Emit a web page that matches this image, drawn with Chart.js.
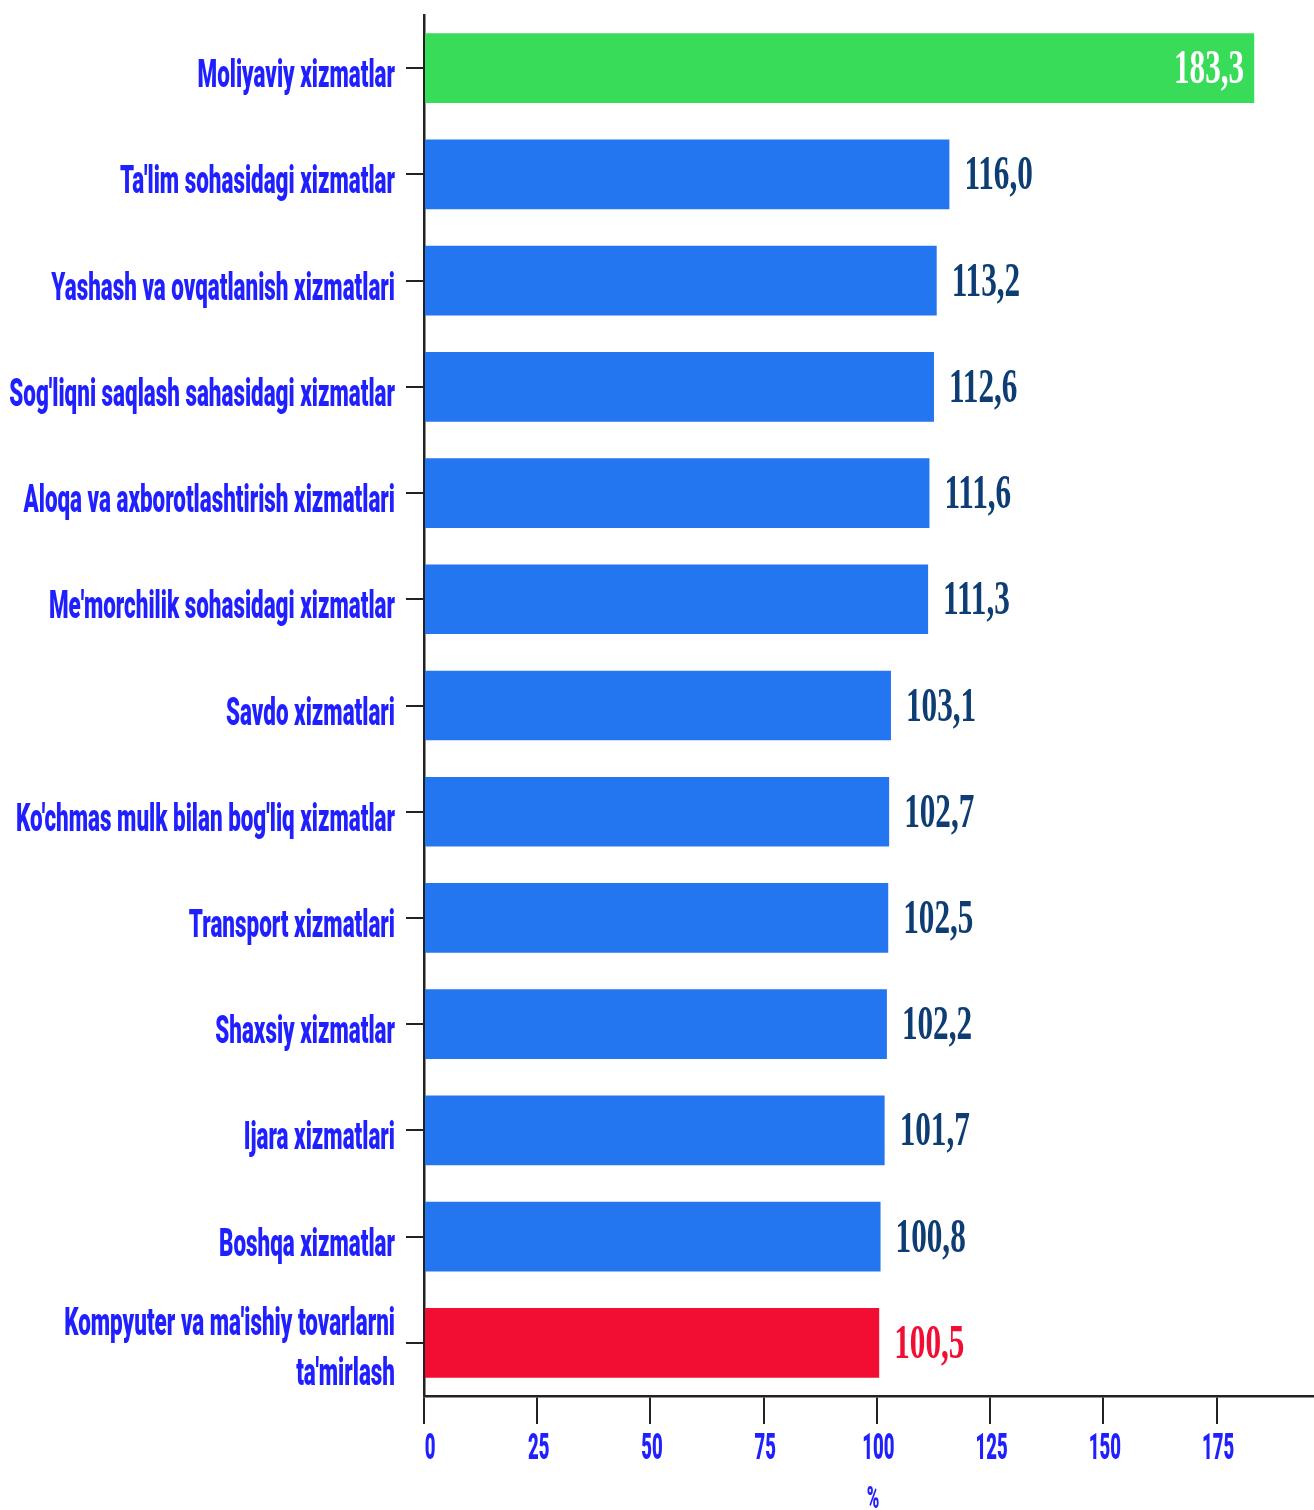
<!DOCTYPE html>
<html>
<head>
<meta charset="utf-8">
<script src="https://cdn.jsdelivr.net/npm/chart.js@4.4.1/dist/chart.umd.min.js"></script>
<style>
  html, body { margin: 0; padding: 0; background: #ffffff; }
  #wrap { width: 1314px; height: 1510px; position: relative; }
</style>
</head>
<body>
<div id="wrap"><canvas id="c"></canvas></div>
<script>
// ---- data ----
const categories = [
  "Moliyaviy xizmatlar",
  "Ta'lim sohasidagi xizmatlar",
  "Yashash va ovqatlanish xizmatlari",
  "Sog'liqni saqlash sahasidagi xizmatlar",
  "Aloqa va axborotlashtirish xizmatlari",
  "Me'morchilik sohasidagi xizmatlar",
  "Savdo xizmatlari",
  "Ko'chmas mulk bilan bog'liq xizmatlar",
  "Transport xizmatlari",
  "Shaxsiy xizmatlar",
  "Ijara xizmatlari",
  "Boshqa xizmatlar",
  ["Kompyuter va ma'ishiy tovarlarni", "ta'mirlash"]
];
const values = [183.3, 116.0, 113.2, 112.6, 111.6, 111.3, 103.1, 102.7, 102.5, 102.2, 101.7, 100.8, 100.5];
const valueLabels = ["183,3", "116,0", "113,2", "112,6", "111,6", "111,3", "103,1", "102,7", "102,5", "102,2", "101,7", "100,8", "100,5"];
const barColors = ["#38dc58", "#2476f0", "#2476f0", "#2476f0", "#2476f0", "#2476f0", "#2476f0", "#2476f0", "#2476f0", "#2476f0", "#2476f0", "#2476f0", "#f20d33"];
const valueColors = ["#ffffff", "#0e3d74", "#0e3d74", "#0e3d74", "#0e3d74", "#0e3d74", "#0e3d74", "#0e3d74", "#0e3d74", "#0e3d74", "#0e3d74", "#0e3d74", "#f20d33"];
const xTickStep = 25;
const xMax = 196.5;
const axisTitle = "%";

// ---- style ----
const LABEL_BLUE = "#1f1fff";
const AXIS_COLOR = "#222222";

function squeezedText(ctx, text, x, y, font, sx, color, align) {
  ctx.save();
  ctx.font = font;
  ctx.fillStyle = color;
  ctx.textAlign = align;
  ctx.textBaseline = "alphabetic";
  ctx.translate(x, y);
  ctx.scale(sx, 1);
  ctx.fillText(text, 0, 0);
  ctx.restore();
}

const textPlugin = {
  id: "textPlugin",
  afterDraw(chart) {
    const ctx = chart.ctx;
    const ys = chart.scales.y;
    const xs = chart.scales.x;
    const area = chart.chartArea;

    // category labels
    const catFont = "900 38px Roboto";
    const catSx = 0.59;
    ys.ticks.forEach((t, i) => {
      const y = ys.getPixelForTick(i);
      const lab = categories[i];
      if (Array.isArray(lab)) {
        squeezedText(ctx, lab[0], 395, y - 8, catFont, catSx, LABEL_BLUE, "right");
        squeezedText(ctx, lab[1], 395, y + 42, catFont, catSx, LABEL_BLUE, "right");
      } else {
        squeezedText(ctx, lab, 395, y + 19, catFont, catSx, LABEL_BLUE, "right");
      }
    });

    // x tick labels
    xs.ticks.forEach((t) => {
      const x = xs.getPixelForValue(t.value) + (t.value === 0 ? 6 : 1.5);
      squeezedText(ctx, String(t.value), x, area.bottom + 63, "900 37px Roboto", 0.5, LABEL_BLUE, "center");
    });

    // axis title
    squeezedText(ctx, axisTitle, (area.left + area.right) / 2 + 4, area.bottom + 112, "900 32px Roboto", 0.53, LABEL_BLUE, "center");

    // value labels
    const meta = chart.getDatasetMeta(0);
    meta.data.forEach((bar, i) => {
      const font = "bold 48px 'Liberation Serif'";
      if (i === 0) {
        squeezedText(ctx, valueLabels[i], bar.x - 10, bar.y + 15, font, 0.65, valueColors[i], "right");
      } else {
        squeezedText(ctx, valueLabels[i], bar.x + 15, bar.y + 15, font, 0.65, valueColors[i], "left");
      }
    });
  }
};

new Chart(document.getElementById("c"), {
  type: "bar",
  data: {
    labels: categories,
    datasets: [{
      data: values,
      backgroundColor: barColors,
      borderWidth: 0,
      barPercentage: 0.656,
      categoryPercentage: 1.0
    }]
  },
  options: {
    indexAxis: "y",
    responsive: true,
    maintainAspectRatio: false,
    animation: false,
    layout: { padding: { top: 8, left: 0, right: 0, bottom: 0 } },
    plugins: {
      legend: { display: false },
      tooltip: { enabled: false },
      title: { display: false }
    },
    scales: {
      y: {
        type: "category",
        offset: true,
        grid: {
          display: true,
          drawOnChartArea: false,
          drawTicks: true,
          tickLength: 18,
          lineWidth: 2,
          color: AXIS_COLOR,
          offset: false
        },
        border: { display: true, width: 2.5, color: AXIS_COLOR },
        ticks: { color: "rgba(0,0,0,0)", font: { size: 10 } },
        afterFit(s) { s.width = 424; }
      },
      x: {
        type: "linear",
        min: 0,
        max: xMax,
        grid: {
          display: true,
          drawOnChartArea: false,
          drawTicks: true,
          tickLength: 28,
          lineWidth: 2,
          color: AXIS_COLOR
        },
        border: { display: true, width: 2.5, color: AXIS_COLOR },
        ticks: { stepSize: xTickStep, color: "rgba(0,0,0,0)", font: { size: 10 } },
        afterBuildTicks(s) {
          s.ticks = s.ticks.filter(t => Math.abs(t.value % xTickStep) < 1e-9);
        },
        afterFit(s) { s.height = 114; }
      }
    }
  },
  plugins: [textPlugin]
});
</script>
</body>
</html>
